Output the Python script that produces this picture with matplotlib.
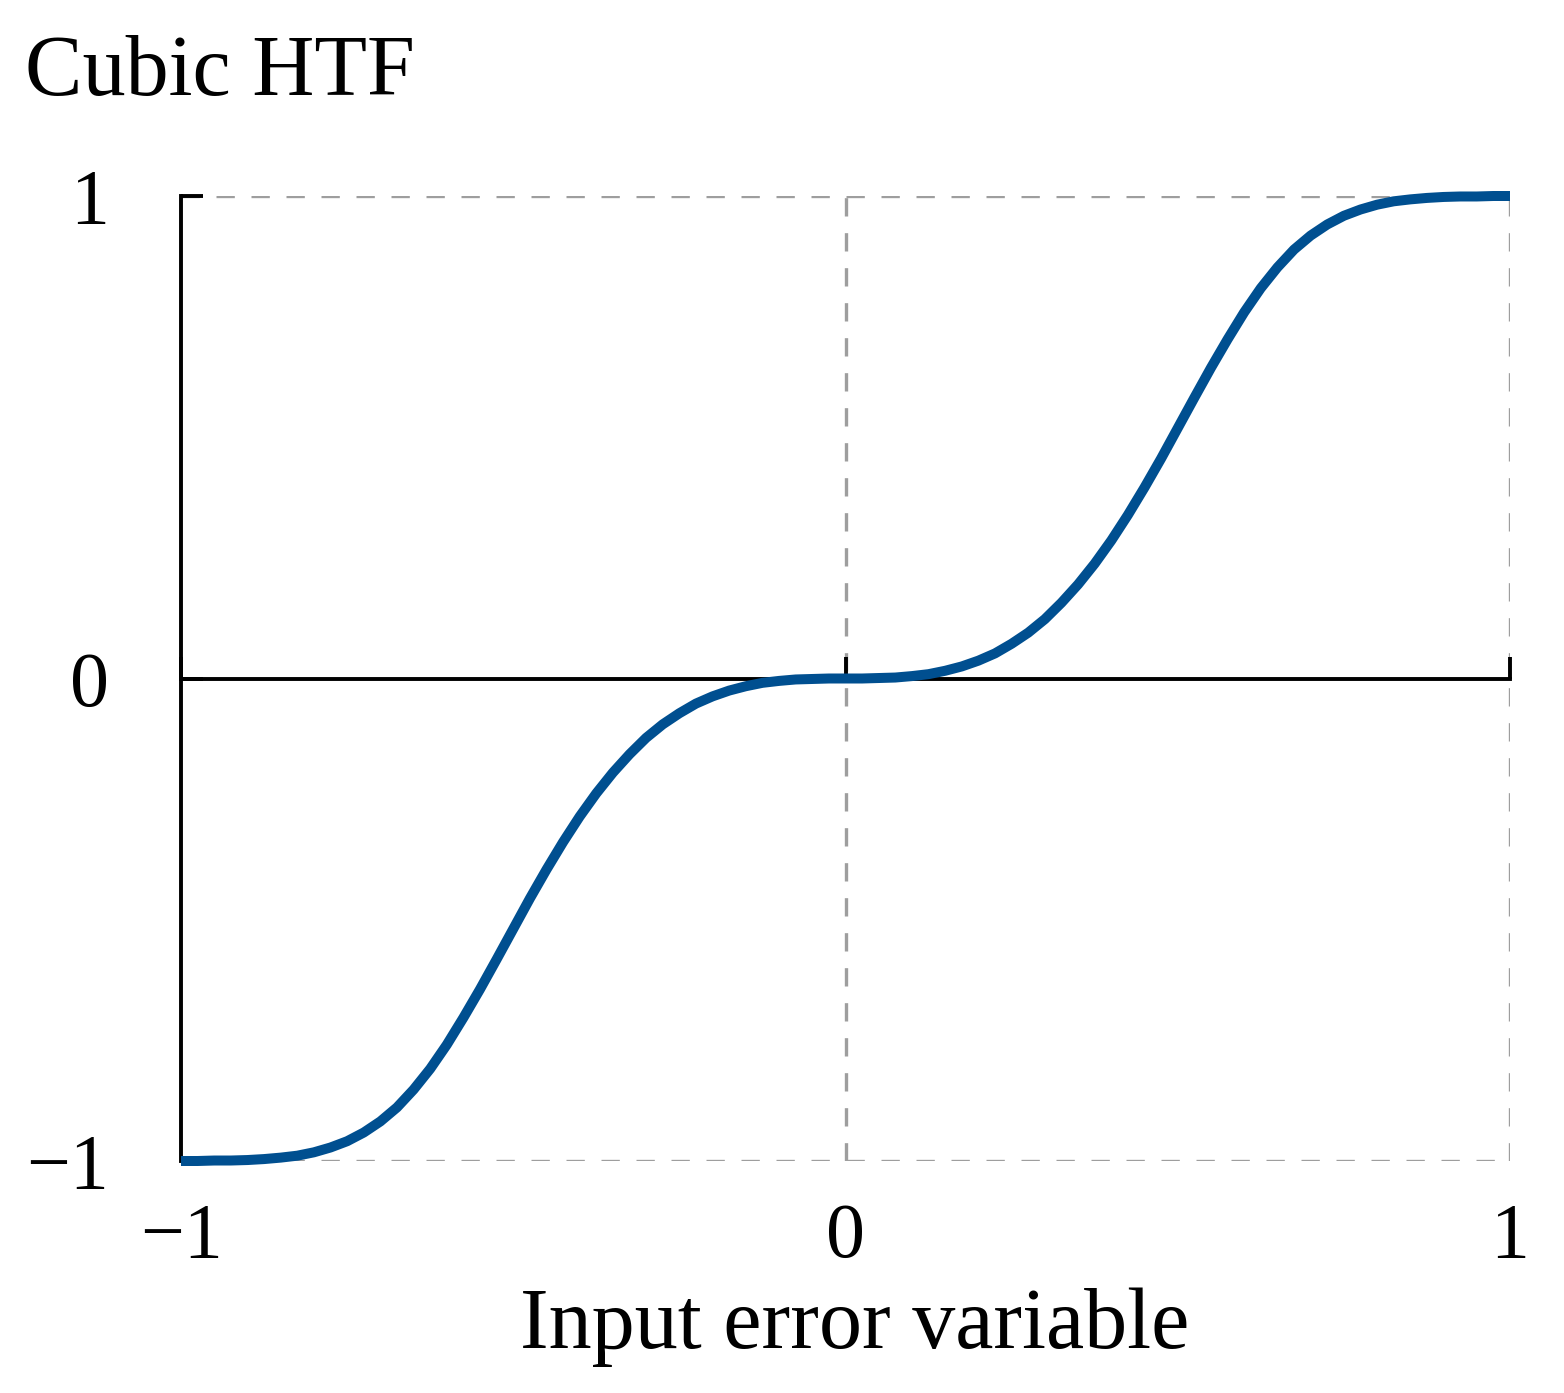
import matplotlib
matplotlib.use("Agg")
import matplotlib.pyplot as plt

plt.rcParams['font.family'] = ['Liberation Serif', 'DejaVu Serif']

# Data
x_vals = [-1.000, -0.975, -0.950, -0.925, -0.900, -0.875, -0.850, -0.825, -0.800, -0.775,
          -0.750, -0.725, -0.700, -0.675, -0.650, -0.625, -0.600, -0.575, -0.550, -0.525,
          -0.500, -0.475, -0.450, -0.425, -0.400, -0.375, -0.350, -0.325, -0.300, -0.275,
          -0.250, -0.225, -0.200, -0.175, -0.150, -0.125, -0.100, -0.075, -0.050, -0.025,
          0.000,
          0.025, 0.050, 0.075, 0.100, 0.125, 0.150, 0.175, 0.200, 0.225, 0.250,
          0.275, 0.300, 0.325, 0.350, 0.375, 0.400, 0.425, 0.450, 0.475, 0.500,
          0.525, 0.550, 0.575, 0.600, 0.625, 0.650, 0.675, 0.700, 0.725, 0.750,
          0.775, 0.800, 0.825, 0.850, 0.875, 0.900, 0.925, 0.950, 0.975, 1.000]
y_vals = [-1.000, -1.000, -0.999, -0.999, -0.998, -0.996, -0.993, -0.989, -0.982, -0.972,
          -0.959, -0.941, -0.918, -0.889, -0.852, -0.809, -0.759, -0.703, -0.644, -0.582,
          -0.519, -0.456, -0.396, -0.339, -0.286, -0.238, -0.195, -0.157, -0.123, -0.095,
          -0.072, -0.052, -0.037, -0.025, -0.016, -0.009, -0.005, -0.002, -0.001, -0.000,
          0.000,
          0.000, 0.001, 0.002, 0.005, 0.009, 0.016, 0.025, 0.037, 0.052, 0.072,
          0.095, 0.123, 0.157, 0.195, 0.238, 0.286, 0.339, 0.396, 0.456, 0.519,
          0.582, 0.644, 0.703, 0.759, 0.809, 0.852, 0.889, 0.918, 0.941, 0.959,
          0.972, 0.982, 0.989, 0.993, 0.996, 0.998, 0.999, 0.999, 1.000, 1.000]
x_ticks = [-1, 0, 1]
y_ticks = [-1, 0, 1]
tick_labels = ['\u22121', '0', '1']
title_text = 'Cubic HTF'
xlabel_text = 'Input error variable'

W, H = 1564, 1393
fig = plt.figure(figsize=(W / 100, H / 100), dpi=100)
ax = fig.add_axes([181 / W, 1 - 1161 / H, (1510 - 181) / W, (1161 - 196) / H])
ax.set_xlim(-1, 1)
ax.set_ylim(-1, 1)

grey = '#9e9e9e'
dash = (5.5, 5)
for yv in (1, -1):
    ax.axhline(yv, color=grey, lw=2.4, dashes=dash, zorder=1)
for xv in (0, 1):
    ax.axvline(xv, color=grey, lw=2.4, dashes=dash, zorder=1)

for s in ['top', 'right']:
    ax.spines[s].set_visible(False)
ax.spines['left'].set_linewidth(2.8)
ax.spines['left'].set_color('black')
ax.spines['bottom'].set_position(('data', 0))
ax.spines['bottom'].set_linewidth(2.8)
ax.spines['bottom'].set_color('black')
ax.spines['bottom'].set_zorder(2)

ax.set_yticks(y_ticks)
ax.set_yticklabels(tick_labels)
ax.tick_params(axis='y', direction='in', length=16, width=2.8, pad=52,
               labelsize=56, color='black')
ax.set_xticks(x_ticks)
ax.tick_params(axis='x', direction='in', length=16, width=2.8,
               labelbottom=False, color='black')

sec = ax.secondary_xaxis('bottom')
sec.set_xticks(x_ticks)
sec.set_xticklabels(tick_labels)
sec.tick_params(axis='x', length=0, pad=30, labelsize=56)
sec.spines['bottom'].set_visible(False)

ax.plot(x_vals, y_vals, color='#004f90', lw=7.2, clip_on=False, zorder=3,
        solid_capstyle='butt', solid_joinstyle='round')

fig.text(25 / W, 1 - 95 / H, title_text, fontsize=62, ha='left', va='baseline')
fig.text(855 / W, 1 - 1348 / H, xlabel_text, fontsize=62, ha='center', va='baseline')

fig.savefig('out.png', dpi=100)
